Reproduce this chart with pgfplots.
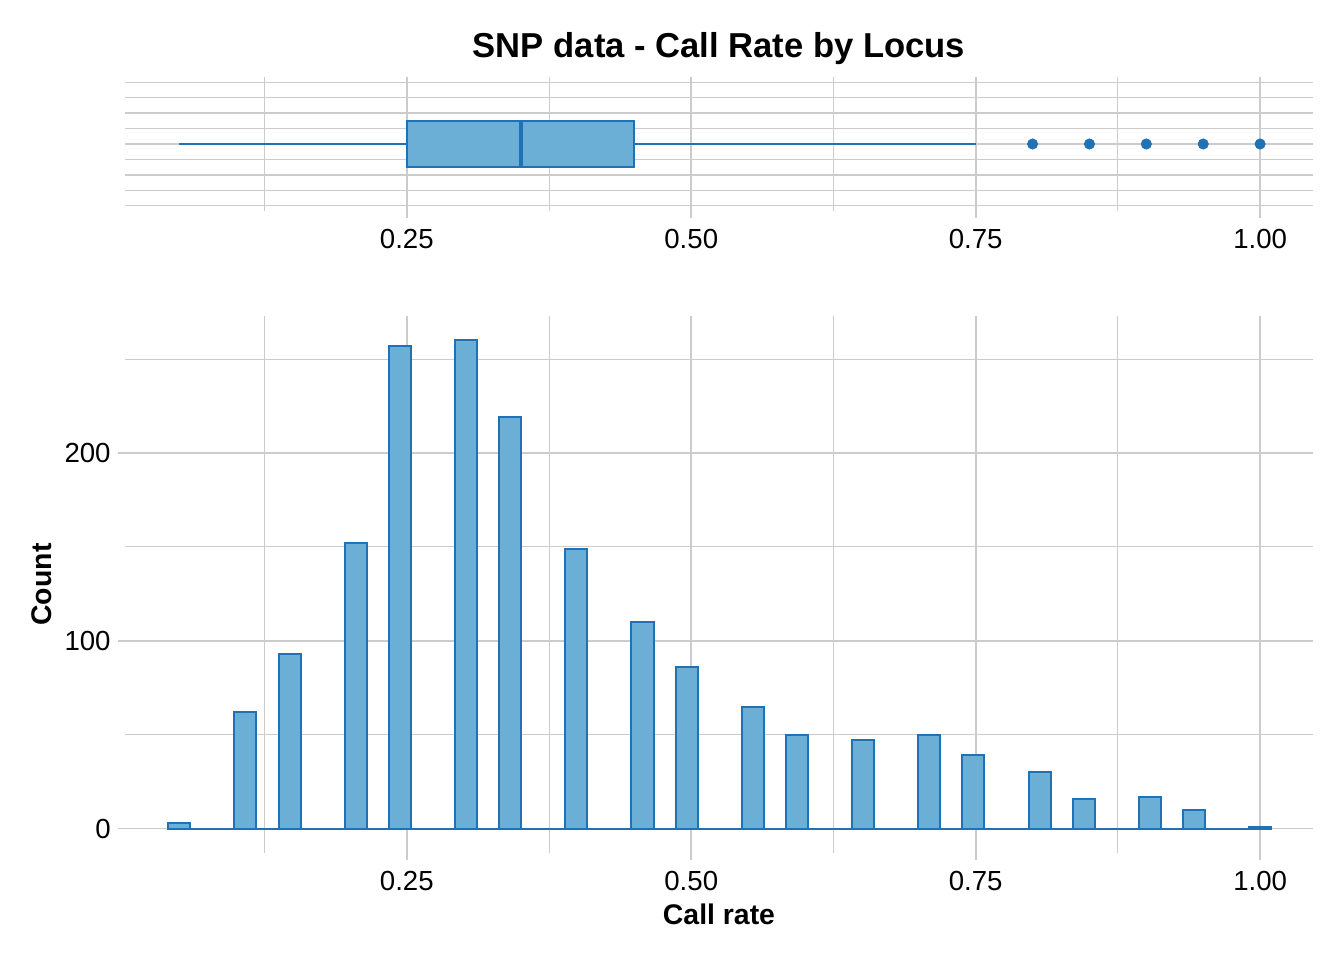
\documentclass[border=0pt]{standalone}
\usepackage{fontspec}
\setmainfont{Liberation Sans}
\usepackage{pgfplots}
\pgfplotsset{compat=1.18}
\definecolor{barfill}{HTML}{6BAED6}
\definecolor{barline}{HTML}{2171B5}
\definecolor{gridc}{HTML}{CCCCCC}

\pgfplotstableread{
edge count
0.040306 3
0.059694 0
0.079082 0
0.098469 62
0.117857 0
0.137245 93
0.156633 0
0.176020 0
0.195408 152
0.214796 0
0.234184 257
0.253571 0
0.272959 0
0.292347 260
0.311735 0
0.331122 219
0.350510 0
0.369898 0
0.389286 149
0.408673 0
0.428061 0
0.447449 110
0.466837 0
0.486224 86
0.505612 0
0.525000 0
0.544388 65
0.563776 0
0.583163 50
0.602551 0
0.621939 0
0.641327 47
0.660714 0
0.680102 0
0.699490 50
0.718878 0
0.738265 39
0.757653 0
0.777041 0
0.796429 30
0.815816 0
0.835204 16
0.854592 0
0.873980 0
0.893367 17
0.912755 0
0.932143 10
0.951531 0
0.970918 0
0.990306 1
1.009694 0
}\histdata

\pgfplotsset{
  panel/.style={
    scale only axis, width=594pt,
    xmin=0.0023, xmax=1.0465,
    axis line style={draw=none},
    grid=both,
    major grid style={draw=gridc, line width=0.85pt},
    minor grid style={draw=gridc, line width=0.45pt},
    tick align=outside,
    major tick length=3.5pt, minor tick length=0pt,
    major tick style={draw=gridc, line width=0.85pt},
    xtick pos=left, ytick pos=left,
    xtick={0.25,0.5,0.75,1}, xticklabels={0.25,0.50,0.75,1.00},
    minor xtick={0.125,0.375,0.625,0.875},
    /pgf/number format/assume math mode=true,
    tick label style={font=\fontsize{13.8}{15}\selectfont, text=black},
    xticklabel style={anchor=north, inner sep=0pt, yshift=-5.2pt},
    yticklabel style={anchor=east, inner sep=0pt, xshift=-3.5pt},
    clip=false,
  }
}

\begin{document}
\begin{tikzpicture}
\useasboundingbox (0,0) rectangle (672pt,480pt);
% top panel: boxplot
\begin{axis}[panel, at={(62.5pt,374.5pt)}, anchor=south west, height=67pt,
  ymin=-1.09, ymax=1.09,
  ytick={-1,-0.5,0,0.5,1}, minor ytick={-0.75,-0.25,0.25,0.75},
  yticklabels={}, ytick style={draw=none},
  title={SNP data - Call Rate by Locus},
  title style={font=\fontsize{17.3}{20}\selectfont\bfseries, at={(axis description cs:0.5,1.1194)}, anchor=center},
]
\addplot[barline, line width=1pt] coordinates {(0.05,0) (0.25,0)};
\addplot[barline, line width=1pt] coordinates {(0.45,0) (0.75,0)};
\addplot[fill=barfill, draw=barline, line width=1pt] coordinates {(0.25,-0.375) (0.45,-0.375) (0.45,0.375) (0.25,0.375)} -- cycle;
\addplot[barline, line width=2pt] coordinates {(0.35,-0.375) (0.35,0.375)};
\addplot[only marks, mark=*, mark size=2.55pt, mark options={fill=barline, draw=barline, line width=0.4pt}] coordinates {(0.80,0) (0.85,0) (0.90,0) (0.95,0) (1.00,0)};
\end{axis}
% bottom panel: histogram
\begin{axis}[panel, at={(62.5pt,53.5pt)}, anchor=south west, height=268.5pt,
  ymin=-13, ymax=273,
  ytick={0,100,200}, minor ytick={50,150,250},
  xlabel={Call rate}, ylabel={Count},
  xlabel style={font=\fontsize{14.2}{16}\selectfont\bfseries, at={(axis description cs:0.5,-0.1136)}, anchor=center},
  ylabel style={font=\fontsize{14.2}{16}\selectfont\bfseries, at={(axis description cs:-0.0699,0.5)}, anchor=center},
]
\addplot[ybar interval, fill=barfill, draw=barline, line width=1pt] table[x=edge, y=count] {\histdata};
\end{axis}
\end{tikzpicture}
\end{document}
